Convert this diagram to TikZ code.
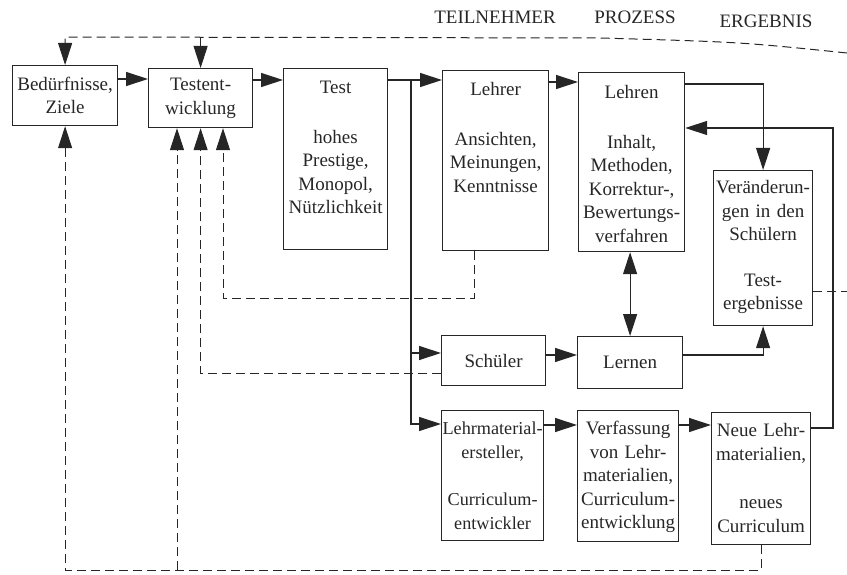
\documentclass[tikz,border=0pt]{standalone}
\usepackage{fontspec}
\setmainfont{Liberation Serif}
\usepackage{tikz}
\usetikzlibrary{arrows.meta}
\newcommand{\schrift}{\fontsize{19}{23.5}\selectfont}

\begin{document}
\begin{tikzpicture}[x=1pt, y=-1pt,
  kasten/.style={draw=black!85, line width=1.2pt, anchor=north west, inner sep=0pt, align=center, font=\schrift, text=black!85},
  kopf/.style={font=\schrift, text=black!85},
  linie/.style={draw=black!85, line width=1.2pt},
  pfeil/.style={linie, -{Triangle[length=22pt,width=14pt]}},
  pfeilzwei/.style={linie, {Triangle[length=22pt,width=14pt]}-{Triangle[length=22pt,width=14pt]}},
  strich/.style={draw=black!85, line width=1pt, dash pattern=on 9pt off 5pt},
  strichpfeil/.style={strich, -{Triangle[length=22pt,width=14pt]}}]
\useasboundingbox (0,0) rectangle (847,575);
% Kopfzeile
\node[kopf] (teil) at (495,17) {TEILNEHMER};
\node[kopf] (proz) at (635,17) {PROZESS};
\node[kopf] (erg) at (766,21) {ERGEBNIS};
% Kaesten
\node[kasten, text width=105pt, minimum height=60pt] (bed) at (12,65) {Bedürfnisse,\\ Ziele};
\node[kasten, text width=104pt, minimum height=59pt] (tew) at (148,68) {Testent-\\ wicklung};
\node[kasten, text width=104pt, text height=25pt, text depth=156pt] (test) at (283,68) {Test\\[26pt] hohes\\ Prestige,\\ Monopol,\\ Nützlichkeit};
\node[kasten, text width=106pt, text height=25pt, text depth=155pt] (lehrer) at (442,70) {Lehrer\\[26pt] Ansichten,\\ Meinungen,\\ Kenntnisse};
\node[kasten, text width=106pt, text height=26pt, text depth=153pt] (lehren) at (578,72) {Lehren\\[26pt] Inhalt,\\ Methoden,\\ Korrektur-,\\ Bewertungs-\\ verfahren};
\node[kasten, text width=99pt, text height=23pt, text depth=132pt] (ver) at (713,170) {Veränderun-\\ gen in den\\ Schülern\\[22pt] Test-\\ ergebnisse};
\node[kasten, text width=104pt, minimum height=50pt] (schueler) at (441,335) {Schüler};
\node[kasten, text width=105pt, minimum height=52pt] (lernen) at (577,336) {Lernen};
\node[kasten, text width=102pt, text height=24pt, text depth=106pt, font=\fontsize{18.2}{23.5}\selectfont] (lmat) at (441,410) {Lehrmaterial-\\ ersteller,\\[24pt] Curriculum-\\ entwickler};
\node[kasten, text width=101pt, text height=24pt, text depth=107pt] (verf) at (577,410) {Verfassung\\ von Lehr-\\ materialien,\\ Curriculum-\\ entwicklung};
\node[kasten, text width=99pt, text height=24pt, text depth=108pt] (neue) at (711,412) {Neue Lehr-\\ materialien,\\[25pt] neues\\ Curriculum};
% Pfeile
\draw[pfeil] (bed.east |- 0,79) -- (tew.west |- 0,79);
\draw[pfeil] (tew.east |- 0,80) -- (test.west |- 0,80);
\coordinate (vt) at (411,80);
\draw[linie] (test.east |- vt) -- (vt);
\draw[pfeil] (vt) -- (lehrer.west |- vt);
\draw[pfeil] (vt) |- (schueler.west |- 0,353);
\draw[pfeil] (vt) |- (lmat.west |- 0,424);
\draw[pfeil] (lehrer.east |- 0,82) -- (lehren.west |- 0,82);
\draw[pfeil] (lehren.east |- 0,84) -| (ver.north);
\coordinate (re) at (833,128);
\draw[pfeil] (neue.east |- 0,428) -| (re) -- (lehren.east |- re);
\draw[pfeilzwei] (lernen.north |- lehren.south) -- (lernen.north);
\draw[pfeil] (schueler.east |- 0,355) -- (lernen.west |- 0,355);
\draw[pfeil] (lernen.east |- 0,355) -| (ver.south);
\draw[pfeil] (lmat.east |- 0,425) -- (verf.west |- 0,425);
\draw[pfeil] (verf.east |- 0,425) -- (neue.west |- 0,425);
% gestrichelte Rueckwege
\coordinate (or) at (847,53);
\coordinate (ok) at (600,38);
\coordinate (ol) at (bed.north |- 0,37);
\draw[strichpfeil] (or) .. controls (740,42) .. (ok) -- (ol) -- (bed.north);
\draw[strichpfeil] (tew.north |- ol) -- (tew.north);
\coordinate (l1) at (474,298);
\coordinate (l2) at (223,298);
\draw[strichpfeil] (lehrer.south -| l1) -- (l1) -- (l2) -- (l2 |- tew.south);
\draw[strichpfeil] (schueler.west |- 0,373) -| (tew.south);
\coordinate (u1) at (neue.south |- 0,570);
\draw[strichpfeil] (neue.south) -- (u1) -| (bed.south);
\coordinate (u2) at (177,570);
\draw[strichpfeil] (u2) -- (u2 |- tew.south);
\coordinate (rr) at (847,291);
\draw[strich] (ver.east |- rr) -- (rr);
\end{tikzpicture}
\end{document}
